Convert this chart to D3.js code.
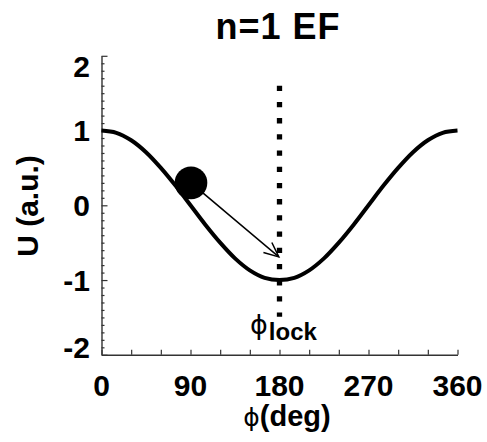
<!DOCTYPE html>
<html><head><meta charset="utf-8">
<script src="https://cdn.jsdelivr.net/npm/d3@7"></script>
<style>
html,body{margin:0;padding:0;background:#fff;}
svg{display:block;}
text{font-family:"Liberation Sans",Arial,sans-serif;}
</style></head>
<body>
<script>
// Data
const phiDeg = [0,15,30,45,60,75,90,105,120,135,150,165,180,195,210,225,240,255,270,285,300,315,330,345,360];
const uVals  = [1,0.97,0.87,0.71,0.5,0.26,0,-0.26,-0.5,-0.71,-0.87,-0.97,-1,-0.97,-0.87,-0.71,-0.5,-0.26,0,0.26,0.5,0.71,0.87,0.97,1];
const xTicks = [0,90,180,270,360];
const xTickLabels = ["0","90","180","270","360"];
const yTicks = [-2,-1,0,1,2];
const yTickLabels = ["-2","-1","0","1","2"];
const ball = {phi:90.5, u:0.30};
const arrowTip = {phi:179.3, u:-0.69};
const lockPhi = 180;
const lockRange = [1.60, -1.49];
const title = "n=1 EF";

const W=487,H=442;
const svg=d3.select("body").append("svg").attr("width",W).attr("height",H);
const x=d3.scaleLinear().domain([0,360]).range([101.5,457.5]);
const y=d3.scaleLinear().domain([-2,2]).range([354.8,55.8]);
const axisColor="#333";

// x axis
const gx=svg.append("g").attr("transform",`translate(0,${y(-2)})`);
gx.call(d3.axisBottom(x).tickValues(d3.range(0,361,30)).tickSizeInner(-5).tickSizeOuter(0).tickFormat(""));
gx.select(".domain").attr("stroke",axisColor).attr("stroke-width",1.4);
gx.selectAll(".tick line").attr("stroke",axisColor).attr("stroke-width",1.2);
svg.append("g").selectAll("text").data(xTicks).join("text")
  .attr("x",d=>x(d)).attr("y",396).attr("text-anchor","middle")
  .attr("font-size",30).attr("font-weight","bold").text((d,i)=>xTickLabels[i]);

// y axis
const gy=svg.append("g").attr("transform",`translate(${x(0)},0)`);
gy.call(d3.axisLeft(y).tickValues(d3.range(-20,21).map(v=>v/10)).tickSizeInner(-3).tickSizeOuter(0).tickFormat(""));
gy.selectAll(".tick line").attr("x2",d=>Math.abs(d-Math.round(d))<1e-9?6:3);
gy.select(".domain").attr("stroke",axisColor).attr("stroke-width",1.4);
gy.selectAll(".tick line").attr("stroke",axisColor).attr("stroke-width",1.2);
const yOff={"2":10,"-2":-8};
svg.append("g").selectAll("text").data(yTicks).join("text")
  .attr("x",90).attr("y",d=>y(d)+(yOff[d]||0)).attr("dy","0.36em").attr("text-anchor","end")
  .attr("font-size",30).attr("font-weight","bold").text((d,i)=>yTickLabels[i]);

// axis titles
svg.append("text").attr("transform","translate(38,206) rotate(-90)").attr("text-anchor","middle")
  .attr("font-size",30).attr("font-weight","bold").text("U (a.u.)");
const xl=svg.append("text").attr("x",287).attr("y",426).attr("text-anchor","middle").attr("font-size",29);
xl.append("tspan").attr("font-family","DejaVu Sans").attr("font-weight","normal").attr("font-size",25).text("\u03D5");
xl.append("tspan").attr("font-weight","bold").text("(deg)");

// title
svg.append("text").attr("x",278).attr("y",39).attr("text-anchor","middle")
  .attr("font-size",36).attr("font-weight","bold").attr("letter-spacing",1).text(title);

// dotted lock line
svg.append("line").attr("x1",x(lockPhi)).attr("x2",x(lockPhi))
  .attr("y1",y(lockRange[0])).attr("y2",y(lockRange[1]))
  .attr("stroke","#000").attr("stroke-width",5.3).attr("stroke-dasharray","5.3,10.9");

// curve
const pts=phiDeg.map((p,i)=>[p,uVals[i]]);
svg.append("path").datum(pts)
  .attr("d",d3.line().x(d=>x(d[0])).y(d=>y(d[1])).curve(d3.curveCatmullRom.alpha(0.5)))
  .attr("fill","none").attr("stroke","#000").attr("stroke-width",4);

// arrow
const x0=x(ball.phi),y0=y(ball.u),x1=x(arrowTip.phi),y1=y(arrowTip.u);
svg.append("line").attr("x1",x0).attr("y1",y0).attr("x2",x1).attr("y2",y1)
  .attr("stroke","#000").attr("stroke-width",1.5);
const ang=Math.atan2(y1-y0,x1-x0), hl=16, ha=0.42;
const head=[[x1-hl*Math.cos(ang-ha),y1-hl*Math.sin(ang-ha)],[x1,y1],[x1-hl*Math.cos(ang+ha),y1-hl*Math.sin(ang+ha)]];
svg.append("path").attr("d",d3.line()(head)).attr("fill","none").attr("stroke","#000").attr("stroke-width",1.5);

// ball
svg.append("circle").attr("cx",x0).attr("cy",y0).attr("r",16.3).attr("fill","#000");

// phi_lock label
const ll=svg.append("text").attr("x",250).attr("y",334);
ll.append("tspan").attr("font-family","DejaVu Sans").attr("font-size",27).text("\u03D5");
ll.append("tspan").attr("font-weight","bold").attr("font-size",24).attr("dy",6).attr("dx",1).text("lock");
</script>
</body></html>
